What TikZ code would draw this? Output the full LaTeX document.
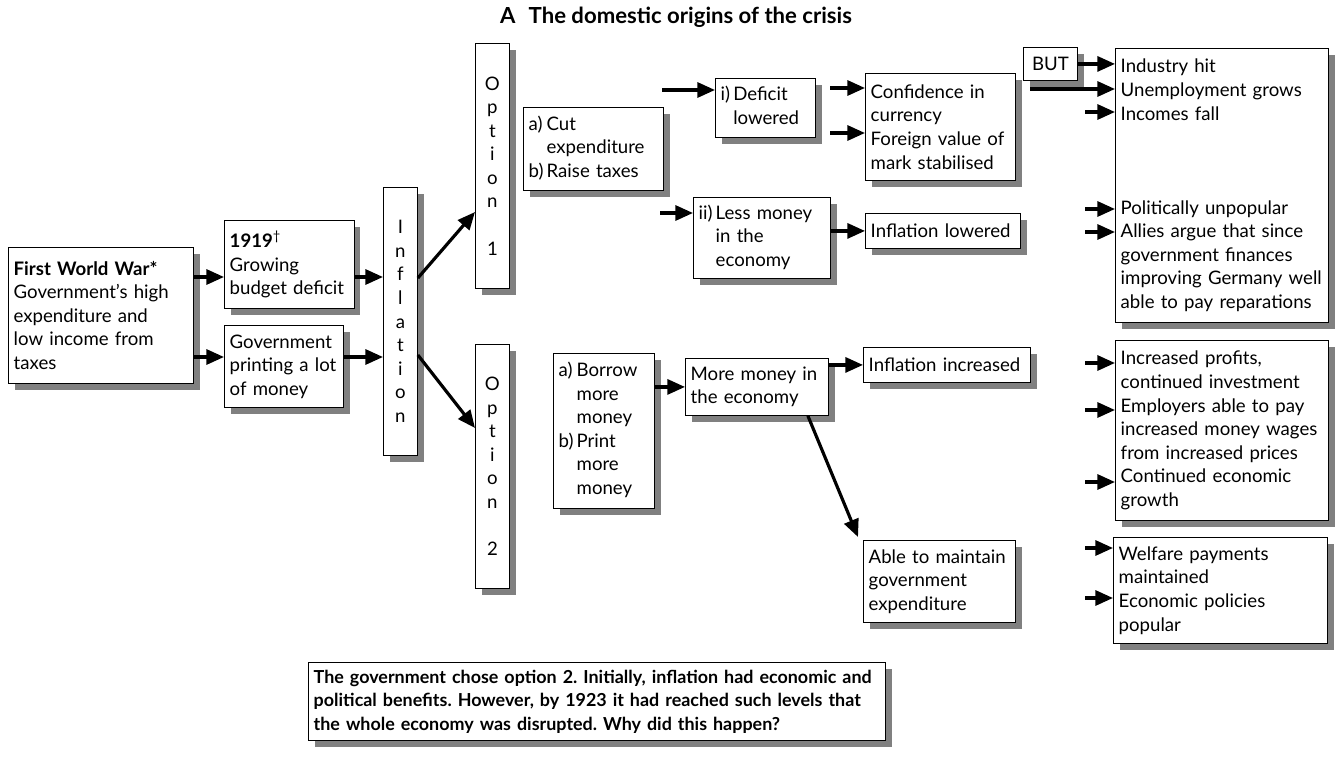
\documentclass[tikz,border=0pt]{standalone}
\usepackage{fontspec}
\setmainfont{Lato}
\usepackage{tikz}
\usetikzlibrary{arrows.meta, shadows, calc}
\frenchspacing

\tikzset{
    box/.style={draw, line width=0.5pt, fill=white, anchor=north west, align=left,
        inner xsep=3pt, inner ysep=2pt, font=\fontsize{10.6}{13.4}\selectfont,
        drop shadow={shadow xshift=3.5pt, shadow yshift=-3.5pt, fill=black!50, opacity=1}},
    colonna/.style={box, align=center, minimum width=0.68cm},
    arr/.style={-{Triangle[length=10pt, width=8.5pt]}, line width=1.8pt},
}

\begin{document}
\begin{tikzpicture}[x=0.02cm, y=-0.02cm]
    \useasboundingbox (0,0) rectangle (1339,760);

    % Titolo
    \node[font=\fontsize{12.6}{14}\selectfont\bfseries] (titolo) at (676,17) {A\hspace{0.6em}The domestic origins of the crisis};

    % Cause
    \node[box, text width=3.49cm, minimum height=2.72cm] (guerra) at (8,247)
        {\textbf{First World War*}\\Government's high\\expenditure and\\low income from\\taxes};
    \node[box, text width=2.38cm, minimum height=1.76cm] (deficit) at (224,220)
        {\textbf{1919}\textsuperscript{\textdagger}\\Growing\\budget deficit};
    \node[box, text width=2.17cm, minimum height=1.64cm] (stampa) at (224,325)
        {Government\\printing a lot\\of money};
    \node[colonna, minimum height=5.36cm] (infl) at (383,187) {I\\n\\f\\l\\a\\t\\i\\o\\n};

    % Opzioni
    \node[colonna, minimum height=4.9cm] (opt1) at (475,43) {O\\p\\t\\i\\o\\n\\[13.4pt]1};
    \node[colonna, minimum height=4.88cm] (opt2) at (475,344) {O\\p\\t\\i\\o\\n\\[13.4pt]2};

    % Opzione 1
    \node[box, text width=2.59cm, minimum height=1.66cm] (tagli) at (523,107)
        {\begin{tabular}{@{}l@{\,}l@{}}a) & Cut\\ & expenditure\\ b) & Raise taxes\end{tabular}};
    \node[box, text width=1.79cm, minimum height=1.18cm] (ridotto) at (715,78)
        {\begin{tabular}{@{}l@{\,}l@{}}i) & Deficit\\ & lowered\end{tabular}};
    \node[box, text width=2.53cm, minimum height=1.62cm] (menosoldi) at (693,197)
        {\begin{tabular}{@{}l@{\,}l@{}}ii) & Less money\\ & in the\\ & economy\end{tabular}};
    \node[box, text width=2.79cm, minimum height=2.14cm] (fiducia) at (865,73)
        {Confidence in\\currency\\Foreign value of\\mark stabilised};
    \node[box, text width=2.89cm, minimum height=0.7cm] (inflgiu) at (865,213) {Inflation lowered};
    \node[box, align=center, minimum width=1.08cm, minimum height=0.66cm] (ma) at (1023,47) {BUT};
    \node[box, text width=4.05cm, minimum height=5.48cm] (esito1) at (1115,48)
        {Industry hit\\Unemployment grows\\Incomes fall\\[3\baselineskip]Politically unpopular\\
         Allies argue that since\\government finances\\improving Germany well\\able to pay reparations};

    % Opzione 2
    \node[box, text width=1.81cm, minimum height=3.1cm] (prestito) at (553,353)
        {\begin{tabular}{@{}l@{\,}l@{}}a) & Borrow\\ & more\\ & money\\ b) & Print\\ & more\\ & money\end{tabular}};
    \node[box, text width=2.65cm, minimum height=1.14cm] (piusoldi) at (685,358)
        {More money in\\the economy};
    \node[box, text width=3.13cm, minimum height=0.7cm] (inflsu) at (863,347) {Inflation increased};
    \node[box, text width=2.83cm, minimum height=1.64cm] (spesa) at (863,540)
        {Able to maintain\\government\\expenditure};
    \node[box, text width=4.05cm, minimum height=3.6cm] (esito2) at (1115,340)
        {Increased profits,\\continued investment\\Employers able to pay\\increased money wages\\
         from increased prices\\Continued economic\\growth};
    \node[box, text width=4.07cm, minimum height=2.12cm] (esito3) at (1113,537)
        {Welfare payments\\maintained\\Economic policies\\popular};

    % Domanda
    \node[box, text width=11.33cm, minimum height=1.56cm, font=\fontsize{10.2}{13.4}\selectfont\bfseries] (domanda) at (308,662)
        {The government chose option 2. Initially, inflation had economic and\\
         political benefits. However, by 1923 it had reached such levels that\\
         the whole economy was disrupted. Why did this happen?};

    % Frecce
    \draw[arr] (guerra.east |- 0,277) -- (deficit.west |- 0,277);
    \draw[arr] (guerra.east |- 0,357) -- (stampa.west |- 0,357);
    \draw[arr] (deficit.east |- 0,277) -- (infl.west |- 0,277);
    \draw[arr] (stampa.east |- 0,357) -- (infl.west |- 0,357);
    \draw[arr] (infl.east |- 0,278) -- (opt1.west |- 0,212);
    \draw[arr] (infl.east |- 0,355) -- (opt2.west |- 0,428);

    \coordinate (c1) at (662,90);
    \coordinate (c2) at (660,213);
    \draw[arr] (c1) -- (c1 -| ridotto.west);
    \draw[arr] (c2) -- (c2 -| menosoldi.west);
    \coordinate (d1) at (830,88);
    \coordinate (d2) at (830,133);
    \draw[arr] (d1) -- (d1 -| fiducia.west);
    \draw[arr] (d2) -- (d2 -| fiducia.west);
    \draw[arr] (menosoldi.east |- inflgiu.west) -- (inflgiu.west);

    \draw[arr] (ma.east) -- (ma.east -| esito1.west);
    \coordinate (m2) at (1030,89);
    \draw[arr] (m2) -- (m2 -| esito1.west);
    \foreach \yy in {112, 209, 232} {
        \draw[arr] (1085,\yy) -- (esito1.west |- 0,\yy);
    }

    \draw[arr] (prestito.east |- piusoldi.west) -- (piusoldi.west);
    \draw[arr] (piusoldi.east |- inflsu.west) -- (inflsu.west);
    \draw[arr] ([xshift=-0.42cm]piusoldi.south east) -- ([xshift=-0.1cm, yshift=0.06cm]spesa.north west);
    \foreach \yy in {363, 410, 482} {
        \draw[arr] (1085,\yy) -- (esito2.west |- 0,\yy);
    }
    \foreach \yy in {548, 598} {
        \draw[arr] (1085,\yy) -- (esito3.west |- 0,\yy);
    }
\end{tikzpicture}
\end{document}
